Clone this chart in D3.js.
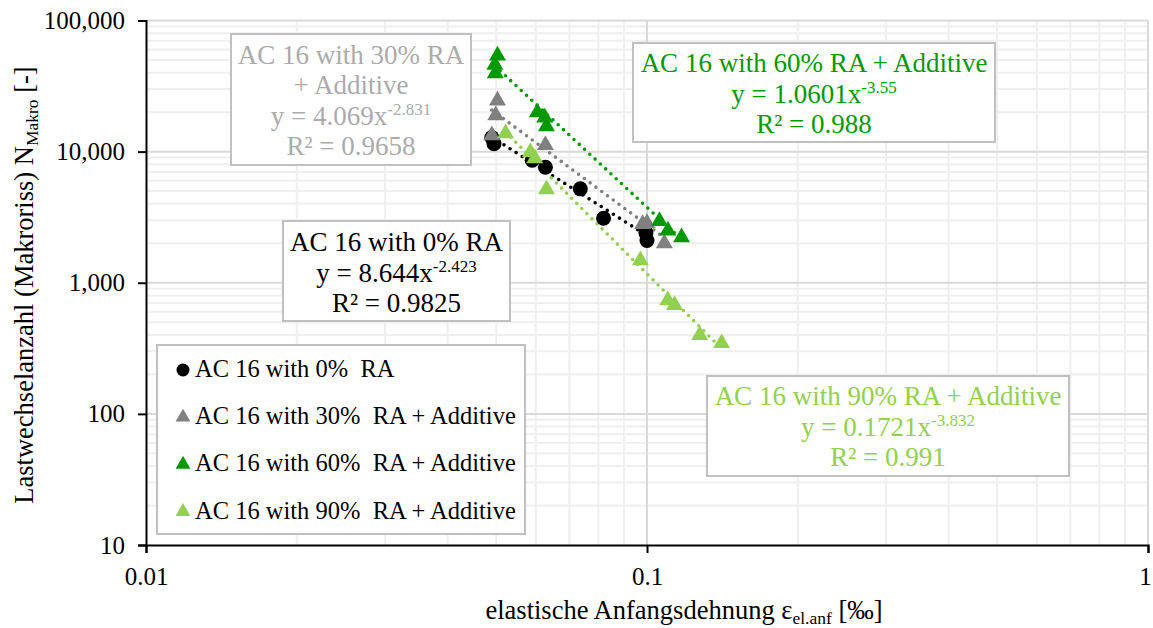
<!DOCTYPE html>
<html>
<head>
<meta charset="utf-8">
<script src="https://cdn.jsdelivr.net/npm/d3@7"></script>
<style>
  body { margin: 0; background: #fff; }
  svg, svg text { font-family: "Liberation Serif", "Times New Roman", Tinos, "Nimbus Roman", "DejaVu Serif", serif !important; }
</style>
</head>
<body>
<div id="chart"></div>
<script>
// series: [strain ‰, cycles]
const ra0 = [[0.049, 12800], [0.0495, 11500], [0.059, 8600], [0.0627, 7600], [0.0736, 5200], [0.0819, 3100], [0.0995, 2400], [0.1, 2100]];
const ra30 = [[0.0503, 24500], [0.0499, 18900], [0.049, 13300], [0.0627, 11200], [0.098, 2800], [0.1, 2850], [0.1083, 2000]];
const ra60 = [[0.0503, 54000], [0.0497, 46000], [0.0498, 39500], [0.0604, 19900], [0.0625, 18200], [0.063, 15600], [0.1059, 2950], [0.1101, 2500], [0.1172, 2220]];
const ra90 = [[0.0522, 13800], [0.0585, 9900], [0.0597, 8900], [0.063, 5150], [0.097, 1480], [0.110, 735], [0.1135, 675], [0.1274, 398], [0.1409, 346]];

const seriesNames = ["AC 16 with 0% RA", "AC 16 with 30% RA + Additive", "AC 16 with 60% RA + Additive", "AC 16 with 90% RA + Additive"];
const seriesData = [ra0, ra30, ra60, ra90];
const seriesColors = ["#000000", "#808080", "#009a00", "#92d050"];
const labelColors = ["#000000", "#ababab", "#009a00", "#92d050"];
const seriesShapes = ["circle", "triangle", "triangle", "triangle"];

// power trend lines y = a * x^b (from the chart labels)
const trendA = [8.644, 4.069, 1.0601, 0.1721];
const trendB = [-2.423, -2.831, -3.55, -3.832];
const trendR2 = ["0.9825", "0.9658", "0.988", "0.991"];

const xTicks = [0.01, 0.1, 1];
const yTicks = [10, 100, 1000, 10000, 100000];

const W = 1153, H = 628;
const pLeft = 146, pRight = 1148, pTop = 20.5, pBottom = 545;
const serif = "'Liberation Serif', 'Times New Roman', Tinos, 'Nimbus Roman', 'DejaVu Serif', serif";

const svg = d3.select("#chart").append("svg")
    .attr("width", W).attr("height", H)
    .attr("font-family", serif);

const x = d3.scaleLog().domain([0.01, 1]).range([pLeft, pRight]);
const y = d3.scaleLog().domain([10, 100000]).range([pBottom, pTop]);

// minor + major grid
const minorX = [], minorY = [];
for (let d = 0.01; d < 0.99; d *= 10)
    for (let k = 2; k <= 9; k++) minorX.push(d * k);
for (let d = 10; d < 99999; d *= 10)
    for (let k = 2; k <= 9; k++) minorY.push(d * k);

const grid = svg.append("g");
grid.selectAll(".mx").data(minorX).enter().append("line")
    .attr("x1", d => x(d)).attr("x2", d => x(d))
    .attr("y1", pTop).attr("y2", pBottom)
    .attr("stroke", "#efefef").attr("stroke-width", 2);
grid.selectAll(".my").data(minorY).enter().append("line")
    .attr("x1", pLeft).attr("x2", pRight)
    .attr("y1", d => y(d)).attr("y2", d => y(d))
    .attr("stroke", "#efefef").attr("stroke-width", 2);
grid.selectAll(".Mx").data(xTicks.slice(1)).enter().append("line")
    .attr("x1", d => x(d)).attr("x2", d => x(d))
    .attr("y1", pTop).attr("y2", pBottom)
    .attr("stroke", "#d9d9d9").attr("stroke-width", 2);
grid.selectAll(".My").data(yTicks.slice(1)).enter().append("line")
    .attr("x1", pLeft).attr("x2", pRight)
    .attr("y1", d => y(d)).attr("y2", d => y(d))
    .attr("stroke", "#d9d9d9").attr("stroke-width", 2);

// axes
const fmt = d3.format(",");
const xAxis = svg.append("g").attr("transform", `translate(0,${pBottom})`)
    .call(d3.axisBottom(x).tickValues(xTicks).tickFormat(d => String(d)).tickSize(8).tickPadding(11));
const yAxis = svg.append("g").attr("transform", `translate(${pLeft},0)`)
    .call(d3.axisLeft(y).tickValues(yTicks).tickFormat(fmt).tickSize(8).tickPadding(13));
[xAxis, yAxis].forEach(a => {
    a.attr("font-family", serif);
    a.select(".domain").attr("stroke", "#000").attr("stroke-width", 2);
    a.selectAll(".tick line").attr("stroke", "#000").attr("stroke-width", 2);
    a.selectAll("text").attr("font-size", 25).attr("fill", "#000");
});
xAxis.selectAll("text").attr("dy", "0.85em");
// keep the last label inside the picture
xAxis.selectAll(".tick text").filter(d => d === 1).attr("dx", -3);

// axis titles
const xt = svg.append("text")
    .attr("x", 684).attr("y", 619).attr("text-anchor", "middle")
    .attr("font-size", 26.5).attr("fill", "#000");
xt.append("tspan").text("elastische Anfangsdehnung ε");
xt.append("tspan").attr("font-size", 17.5).attr("dy", 5).text("el.anf");
xt.append("tspan").attr("dy", -5).text(" [‰]");

const yt = svg.append("text")
    .attr("transform", "translate(33,285) rotate(-90)")
    .attr("text-anchor", "middle").attr("font-size", 26.5).attr("fill", "#000");
yt.append("tspan").text("Lastwechselanzahl (Makroriss) N");
yt.append("tspan").attr("font-size", 17.5).attr("dy", 5).text("Makro");
yt.append("tspan").attr("dy", -5).text(" [-]");

// trend lines
const line = d3.line().x(d => x(d[0])).y(d => y(d[1]));
seriesData.forEach((pts, i) => {
    const ext = d3.extent(pts, d => d[0]);
    const ends = ext.map(v => [v, trendA[i] * Math.pow(v, trendB[i])]);
    svg.append("path")
        .attr("d", line(ends))
        .attr("fill", "none")
        .attr("stroke", seriesColors[i])
        .attr("stroke-width", 3.6)
        .attr("stroke-linecap", "round")
        .attr("stroke-dasharray", "0 7.2");
});

// markers
function drawMarker(g, shape, color, cx, cy, big) {
    if (shape === "circle") {
        g.append("circle").attr("cx", cx).attr("cy", cy).attr("r", big ? 7.5 : 6.5).attr("fill", color);
    } else {
        g.append("path").attr("d", d3.symbol().type(d3.symbolTriangle).size(big ? 125 : 95)())
            .attr("transform", `translate(${cx},${cy})`).attr("fill", color);
    }
}
const marks = svg.append("g");
seriesData.forEach((pts, i) => {
    pts.forEach(p => drawMarker(marks, seriesShapes[i], seriesColors[i], x(p[0]), y(p[1]), true));
});

// trend equation boxes
const boxes = [
    { s: 0, x0: 283, y0: 221, w: 227, h: 100, lines: [seriesNames[0]], base: 251 },
    { s: 1, x0: 231, y0: 34, w: 240, h: 131, lines: ["AC 16 with 30% RA", "+ Additive"], base: 63.5 },
    { s: 2, x0: 633, y0: 43, w: 362, h: 99, lines: [seriesNames[2]], base: 72 },
    { s: 3, x0: 707, y0: 376, w: 362, h: 100, lines: [seriesNames[3]], base: 405 }
];
boxes.forEach(b => {
    const g = svg.append("g");
    g.append("rect").attr("x", b.x0).attr("y", b.y0).attr("width", b.w).attr("height", b.h)
        .attr("fill", "#fff").attr("stroke", "#c0c0c0").attr("stroke-width", 2);
    const cx = b.x0 + b.w / 2;
    const col = labelColors[b.s];
    let yy = b.base;
    b.lines.forEach(l => {
        g.append("text").attr("x", cx).attr("y", yy).attr("text-anchor", "middle")
            .attr("font-size", 27).attr("fill", col).text(l);
        yy += 30.5;
    });
    const eq = g.append("text").attr("x", cx).attr("y", yy).attr("text-anchor", "middle")
        .attr("font-size", 27).attr("fill", col);
    eq.append("tspan").text(`y = ${trendA[b.s]}x`);
    eq.append("tspan").attr("font-size", 17).attr("dy", -10).text(String(trendB[b.s]));
    yy += 30;
    g.append("text").attr("x", cx).attr("y", yy).attr("text-anchor", "middle")
        .attr("font-size", 27).attr("fill", col).text(`R² = ${trendR2[b.s]}`);
});

// legend
const lg = svg.append("g");
lg.append("rect").attr("x", 157).attr("y", 345).attr("width", 368).attr("height", 189)
    .attr("fill", "#fff").attr("stroke", "#c0c0c0").attr("stroke-width", 2);
seriesNames.forEach((n, i) => {
    const by = 377 + i * 47.2;
    drawMarker(lg, seriesShapes[i], seriesColors[i], 183, by - 7, false);
    lg.append("text").attr("x", 195).attr("y", by).attr("font-size", 24.5).attr("fill", "#000")
        .attr("xml:space", "preserve").text(n.replace("% ", "%  "));
});
</script>
</body>
</html>
